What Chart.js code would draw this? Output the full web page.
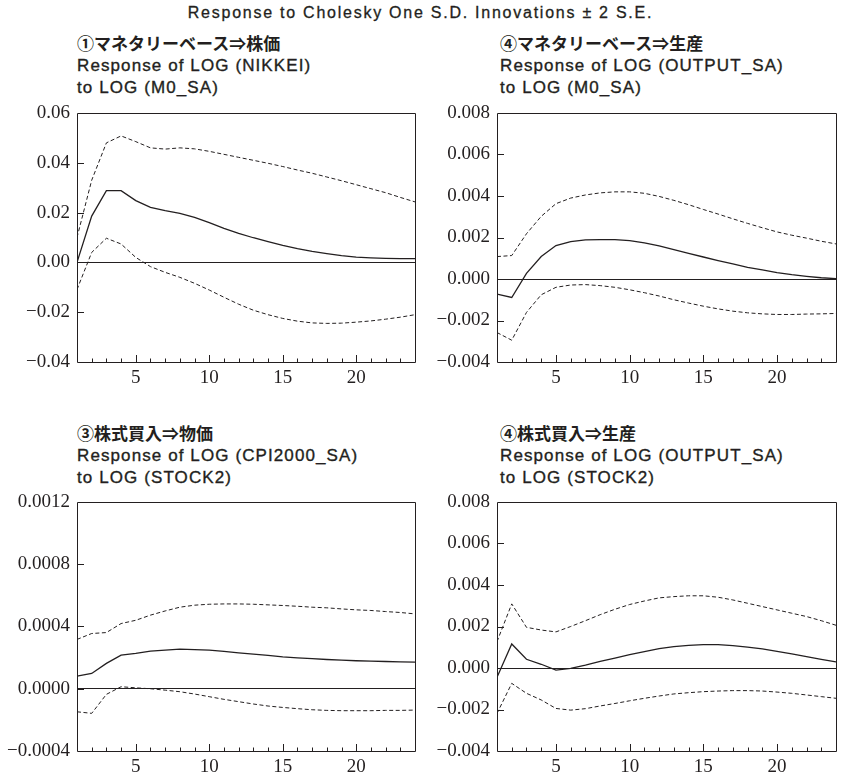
<!DOCTYPE html>
<html>
<head>
<meta charset="utf-8">
<script src="https://cdn.jsdelivr.net/npm/chart.js@4"></script>
<style>
  html, body { margin: 0; padding: 0; background: #fff; }
  body { width: 841px; height: 775px; position: relative; overflow: hidden; }
  .main { position: absolute; left: 0; width: 841px; top: 3px; text-align: center;
          font-family: "Liberation Sans", Arial, sans-serif; font-size: 16px; line-height: 20px; color: #231f20;
          letter-spacing: 1.75px; -webkit-text-stroke: 0.3px #231f20; }
  .ttl { position: absolute; font-family: "Liberation Sans", Arial, sans-serif;
         font-size: 17px; line-height: 22.5px; color: #231f20; white-space: nowrap;
         letter-spacing: 1.1px; -webkit-text-stroke: 0.35px #231f20; }
  .ttl .jp { font-family: "Noto Sans CJK JP", sans-serif; font-weight: bold; letter-spacing: 0; -webkit-text-stroke: 0; }
  .box { position: absolute; }
  canvas { display: block; }
</style>
</head>
<body>
<div class="main">Response to Cholesky One S.D. Innovations ± 2 S.E.</div>

<div class="ttl" style="left:77px; top:32px;"><div class="jp">①マネタリーベース⇒株価</div><div>Response of LOG (NIKKEI)</div><div>to LOG (M0_SA)</div></div>
<div class="ttl" style="left:500px; top:32px;"><div class="jp">④マネタリーベース⇒生産</div><div>Response of LOG (OUTPUT_SA)</div><div>to LOG (M0_SA)</div></div>
<div class="ttl" style="left:77px; top:422px;"><div class="jp">③株式買入⇒物価</div><div>Response of LOG (CPI2000_SA)</div><div>to LOG (STOCK2)</div></div>
<div class="ttl" style="left:500px; top:422px;"><div class="jp">④株式買入⇒生産</div><div>Response of LOG (OUTPUT_SA)</div><div>to LOG (STOCK2)</div></div>

<div class="box" style="left:0px; top:94px; width:420px; height:301px;"><canvas id="c1" width="420" height="301"></canvas></div>
<div class="box" style="left:420px; top:94px; width:421px; height:301px;"><canvas id="c2" width="421" height="301"></canvas></div>
<div class="box" style="left:0px; top:483px; width:420px; height:292px;"><canvas id="c3" width="420" height="292"></canvas></div>
<div class="box" style="left:420px; top:483px; width:421px; height:292px;"><canvas id="c4" width="421" height="292"></canvas></div>

<script>
// Periods (horizon)
const periods = [1,2,3,4,5,6,7,8,9,10,11,12,13,14,15,16,17,18,19,20,21,22,23,24];
const xTickLabels = [5, 10, 15, 20];

// ① Monetary base -> stock price: LOG(NIKKEI) to LOG(M0_SA)
const p1Resp  = [0.0000,0.0186,0.0288,0.0288,0.0248,0.0221,0.0208,0.0197,0.0181,0.0160,0.0137,0.0117,0.0099,0.0083,0.0068,0.0055,0.0044,0.0035,0.0027,0.0021,0.0018,0.0016,0.0015,0.0015];
const p1Upper = [0.0100,0.0330,0.0480,0.0508,0.0485,0.0460,0.0455,0.0460,0.0456,0.0446,0.0434,0.0422,0.0410,0.0398,0.0385,0.0371,0.0358,0.0343,0.0328,0.0312,0.0296,0.0280,0.0261,0.0243];
const p1Lower = [-0.0109,0.0040,0.0097,0.0074,0.0020,-0.0017,-0.0040,-0.0060,-0.0084,-0.0111,-0.0140,-0.0168,-0.0192,-0.0210,-0.0225,-0.0236,-0.0243,-0.0245,-0.0244,-0.0240,-0.0235,-0.0228,-0.0220,-0.0210];
const p1Ticks = [-0.04,-0.02,0.00,0.02,0.04,0.06];

// ④ Monetary base -> output: LOG(OUTPUT_SA) to LOG(M0_SA)
const p2Resp  = [-0.00073,-0.00089,0.00027,0.00108,0.00161,0.00180,0.00189,0.00190,0.00190,0.00185,0.00174,0.00160,0.00142,0.00124,0.00106,0.00089,0.00073,0.00056,0.00044,0.00031,0.00021,0.00013,0.00006,0.00002];
const p2Upper = [0.00108,0.00113,0.00218,0.00302,0.00363,0.00390,0.00405,0.00415,0.00420,0.00420,0.00413,0.00398,0.00379,0.00358,0.00335,0.00313,0.00290,0.00268,0.00247,0.00227,0.00211,0.00197,0.00182,0.00169];
const p2Lower = [-0.00258,-0.00295,-0.00161,-0.00076,-0.00040,-0.00029,-0.00027,-0.00032,-0.00040,-0.00052,-0.00066,-0.00082,-0.00100,-0.00116,-0.00131,-0.00144,-0.00155,-0.00163,-0.00168,-0.00171,-0.00171,-0.00169,-0.00168,-0.00166];
const p2Ticks = [-0.004,-0.002,0.000,0.002,0.004,0.006,0.008];

// ③ Stock purchases -> prices: LOG(CPI2000_SA) to LOG(STOCK2)
const p3Resp  = [0.000081,0.000098,0.000163,0.000216,0.000227,0.000242,0.000248,0.000255,0.000252,0.000248,0.000240,0.000231,0.000222,0.000214,0.000205,0.000199,0.000193,0.000188,0.000184,0.000180,0.000178,0.000175,0.000173,0.000171];
const p3Upper = [0.000317,0.000355,0.000361,0.000419,0.000440,0.000473,0.000500,0.000524,0.000537,0.000543,0.000545,0.000545,0.000543,0.000539,0.000535,0.000530,0.000524,0.000520,0.000513,0.000507,0.000503,0.000496,0.000490,0.000481];
const p3Lower = [-0.000148,-0.000158,-0.000036,0.000013,0.000006,0.000000,-0.000009,-0.000019,-0.000034,-0.000051,-0.000068,-0.000083,-0.000098,-0.000111,-0.000120,-0.000128,-0.000135,-0.000139,-0.000141,-0.000141,-0.000141,-0.000139,-0.000139,-0.000137];
const p3Ticks = [-0.0004,0.0000,0.0004,0.0008,0.0012];

// ④ Stock purchases -> output: LOG(OUTPUT_SA) to LOG(STOCK2)
const p4Resp  = [-0.00045,0.00116,0.00042,0.00018,-0.00010,-0.00002,0.00014,0.00032,0.00048,0.00064,0.00079,0.00093,0.00103,0.00109,0.00113,0.00113,0.00108,0.00101,0.00092,0.00080,0.00068,0.00055,0.00042,0.00029];
const p4Upper = [0.00127,0.00309,0.00196,0.00183,0.00174,0.00200,0.00228,0.00257,0.00283,0.00306,0.00323,0.00338,0.00344,0.00348,0.00348,0.00341,0.00328,0.00312,0.00296,0.00280,0.00264,0.00248,0.00228,0.00206];
const p4Lower = [-0.00219,-0.00074,-0.00122,-0.00154,-0.00195,-0.00203,-0.00196,-0.00183,-0.00171,-0.00158,-0.00146,-0.00135,-0.00125,-0.00119,-0.00114,-0.00111,-0.00109,-0.00109,-0.00111,-0.00116,-0.00122,-0.00130,-0.00138,-0.00146];
const p4Ticks = [-0.004,-0.002,0.000,0.002,0.004,0.006,0.008];

const INK = '#231f20';
const SERIF = '"Liberation Serif", "DejaVu Serif", serif';

// Frame + inward tick marks drawn through the chart's own scales
const framePlugin = {
  id: 'frame',
  afterDatasetsDraw(chart) {
    const { ctx, chartArea: a, scales } = chart;
    ctx.save();
    ctx.strokeStyle = INK;
    ctx.lineWidth = 1;
    ctx.beginPath();
    ctx.rect(Math.round(a.left) + 0.5, Math.round(a.top) + 0.5, Math.round(a.right - a.left), Math.round(a.bottom - a.top));
    ctx.stroke();
    const xs = scales.x;
    ctx.beginPath();
    periods.forEach(p => {
      if (p === periods[0] || p === periods[periods.length - 1]) return;
      const x = Math.round(xs.getPixelForValue(p)) + 0.5;
      const len = xTickLabels.includes(p) ? 7 : 3.5;
      ctx.moveTo(x, a.bottom);
      ctx.lineTo(x, a.bottom - len);
    });
    const ys = scales.y;
    ys.ticks.forEach(t => {
      const y = Math.round(ys.getPixelForValue(t.value)) + 0.5;
      if (y <= a.top + 1 || y >= a.bottom - 1) return;
      ctx.moveTo(a.left, y);
      ctx.lineTo(a.left + 7, y);
    });
    ctx.stroke();
    ctx.restore();
  }
};

function fmt(v, dec) {
  const s = Math.abs(v).toFixed(dec);
  return (v < -1e-12 ? '\u2212' : '') + s;
}

function makeChart(id, resp, upper, lower, ticks, dec, bottomH) {
  const step = ticks[1] - ticks[0];
  new Chart(document.getElementById(id), {
    type: 'line',
    data: {
      labels: periods,
      datasets: [
        { data: periods.map((p, i) => ({ x: p, y: upper[i] })), borderColor: INK, borderWidth: 1, borderDash: [4, 2.5], pointRadius: 0, tension: 0, fill: false },
        { data: periods.map((p, i) => ({ x: p, y: resp[i] })), borderColor: INK, borderWidth: 1.3, pointRadius: 0, tension: 0, fill: false },
        { data: periods.map((p, i) => ({ x: p, y: lower[i] })), borderColor: INK, borderWidth: 1, borderDash: [4, 2.5], pointRadius: 0, tension: 0, fill: false }
      ]
    },
    options: {
      responsive: false,
      animation: false,
      events: [],
      layout: { padding: { top: 19, right: 4, left: 0, bottom: 0 } },
      plugins: { legend: { display: false }, tooltip: { enabled: false }, title: { display: false } },
      scales: {
        x: {
          type: 'linear',
          min: periods[0], max: periods[periods.length - 1],
          border: { display: false },
          grid: { display: false, drawTicks: false },
          afterFit(s) { s.height = bottomH; },
          afterBuildTicks(s) { s.ticks = periods.map(v => ({ value: v })); },
          ticks: {
            autoSkip: false, maxRotation: 0, padding: 5,
            color: INK,
            font: { family: SERIF, size: 19 },
            callback: v => xTickLabels.includes(v) ? String(v) : ''
          }
        },
        y: {
          type: 'linear',
          min: ticks[0], max: ticks[ticks.length - 1],
          border: { display: false },
          afterFit(s) { s.width = 77; },
          afterBuildTicks(s) { s.ticks = ticks.map(v => ({ value: v })); },
          grid: {
            drawTicks: false,
            color: c => (Math.abs(c.tick.value) < step * 1e-6 ? INK : 'rgba(0,0,0,0)'),
            lineWidth: 1
          },
          ticks: {
            padding: 7,
            color: INK,
            font: { family: SERIF, size: 19 },
            callback: v => fmt(v, dec)
          }
        }
      }
    },
    plugins: [framePlugin]
  });
}

function drawAll() {
  makeChart('c1', p1Resp, p1Upper, p1Lower, p1Ticks, 2, 33);
  makeChart('c2', p2Resp, p2Upper, p2Lower, p2Ticks, 3, 33);
  makeChart('c3', p3Resp, p3Upper, p3Lower, p3Ticks, 4, 24);
  makeChart('c4', p4Resp, p4Upper, p4Lower, p4Ticks, 3, 24);
}

if (document.fonts && document.fonts.load) {
  document.fonts.load('19px "Liberation Serif"').then(drawAll, drawAll);
} else {
  drawAll();
}
</script>
</body>
</html>
